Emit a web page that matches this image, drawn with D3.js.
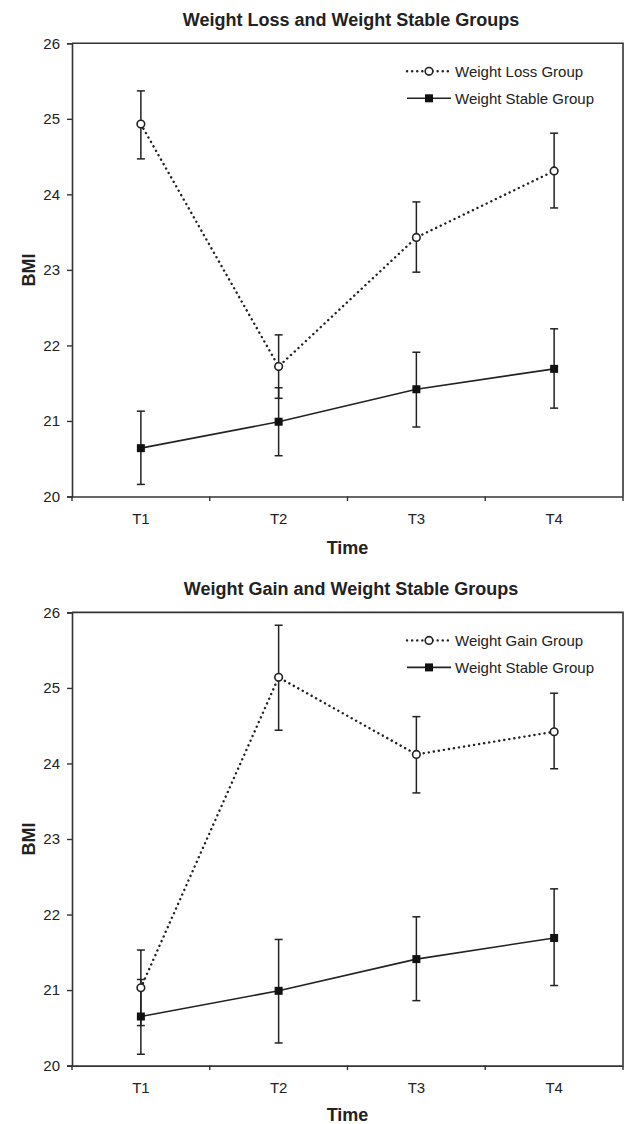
<!DOCTYPE html>
<html>
<head>
<meta charset="utf-8">
<script src="https://cdn.jsdelivr.net/npm/d3@7"></script>
<style>
  body { margin: 0; background: #fff; }
  svg { display: block; font-family: Arial, "Liberation Sans", sans-serif; }
</style>
</head>
<body>
<div id="chart"></div>
<script>
// BMI over time, two panels (group vs weight stable group), mean with error bars

const timePoints = ["T1", "T2", "T3", "T4"];
const bmiTicks = [20, 21, 22, 23, 24, 25, 26];

// top panel
const lossMean = [24.93, 21.72, 23.43, 24.31];
const lossLow = [24.47, 21.30, 22.97, 23.82];
const lossHigh = [25.37, 22.14, 23.90, 24.81];

const stableMeanA = [20.64, 20.99, 21.42, 21.69];
const stableLowA = [20.16, 20.54, 20.92, 21.17];
const stableHighA = [21.13, 21.44, 21.91, 22.22];

// bottom panel
const gainMean = [21.03, 25.14, 24.12, 24.42];
const gainLow = [20.53, 24.44, 23.61, 23.93];
const gainHigh = [21.53, 25.83, 24.62, 24.93];

const stableMeanB = [20.65, 20.99, 21.41, 21.69];
const stableLowB = [20.15, 20.30, 20.86, 21.06];
const stableHighB = [21.14, 21.67, 21.97, 22.34];

const ink = "#222";
const axisInk = "#333";

document.addEventListener('DOMContentLoaded', () => {
    const svg = d3.select("#chart").append("svg")
        .attr("width", 625)
        .attr("height", 1124);

    drawPanel(svg, {
        top: 43.3, bottom: 496.5, timeGap: 57,
        title: "Weight Loss and Weight Stable Groups",
        dotted: { name: "Weight Loss Group", mean: lossMean, low: lossLow, high: lossHigh },
        solid: { name: "Weight Stable Group", mean: stableMeanA, low: stableLowA, high: stableHighA }
    });

    drawPanel(svg, {
        top: 612.4, bottom: 1065.6, timeGap: 55,
        title: "Weight Gain and Weight Stable Groups",
        dotted: { name: "Weight Gain Group", mean: gainMean, low: gainLow, high: gainHigh },
        solid: { name: "Weight Stable Group", mean: stableMeanB, low: stableLowB, high: stableHighB }
    });
});

function drawPanel(svg, cfg) {
    const left = 72, right = 623;

    const x = d3.scaleBand().domain(timePoints).range([left, right]).padding(0);
    const cx = d => x(d) + x.bandwidth() / 2;
    const y = d3.scaleLinear().domain([20, 26]).range([cfg.bottom, cfg.top]);

    const g = svg.append("g");

    // Title
    g.append("text")
        .attr("x", 351)
        .attr("y", cfg.top - 17.5)
        .attr("text-anchor", "middle")
        .attr("fill", ink)
        .style("font-size", "18px")
        .style("font-weight", "bold")
        .text(cfg.title);

    // Frame (top + right)
    g.append("path")
        .attr("d", `M${left},${cfg.top}H${right}V${cfg.bottom}`)
        .attr("fill", "none")
        .attr("stroke", axisInk)
        .attr("stroke-width", 1.6);

    // Y axis
    const yAxis = g.append("g")
        .attr("transform", `translate(${left},0)`)
        .call(d3.axisLeft(y).tickValues(bmiTicks).tickFormat(d3.format("d")).tickSize(5).tickPadding(7));
    yAxis.select(".domain").attr("stroke", axisInk).attr("stroke-width", 1.6);
    yAxis.selectAll(".tick line").attr("stroke", axisInk).attr("stroke-width", 1.4);
    yAxis.selectAll("text").attr("fill", ink).style("font-size", "15px").style("font-family", "Arial, 'Liberation Sans', sans-serif");

    // X axis (labels at band centres, ticks at band edges)
    const xAxis = g.append("g")
        .attr("transform", `translate(0,${cfg.bottom})`)
        .call(d3.axisBottom(x).tickSize(0).tickPadding(17));
    xAxis.select(".domain").attr("stroke", axisInk).attr("stroke-width", 1.6);
    xAxis.selectAll("text").attr("fill", ink).style("font-size", "15px").style("font-family", "Arial, 'Liberation Sans', sans-serif");

    const edges = timePoints.map(d => x(d)).concat([x.range()[1]]);
    g.selectAll(".xedge")
        .data(edges)
        .enter()
        .append("line")
        .attr("x1", d => d).attr("x2", d => d)
        .attr("y1", cfg.bottom).attr("y2", cfg.bottom + 4.5)
        .attr("stroke", axisInk)
        .attr("stroke-width", 1.4);

    // Axis titles
    g.append("text")
        .attr("x", (left + right) / 2)
        .attr("y", cfg.bottom + cfg.timeGap)
        .attr("text-anchor", "middle")
        .attr("fill", ink)
        .style("font-size", "18px")
        .style("font-weight", "bold")
        .text("Time");

    g.append("text")
        .attr("transform", `translate(34.5,${(cfg.top + cfg.bottom) / 2}) rotate(-90)`)
        .attr("text-anchor", "middle")
        .attr("fill", ink)
        .style("font-size", "18px")
        .style("font-weight", "bold")
        .text("BMI");

    // Series
    const line = d3.line().x(d => cx(d.t)).y(d => y(d.v));
    const rows = s => timePoints.map((t, i) => ({ t: t, v: s.mean[i], lo: s.low[i], hi: s.high[i] }));

    const solidRows = rows(cfg.solid);
    const dottedRows = rows(cfg.dotted);

    g.append("path")
        .datum(solidRows)
        .attr("d", line)
        .attr("fill", "none")
        .attr("stroke", ink)
        .attr("stroke-width", 1.6);

    g.append("path")
        .datum(dottedRows)
        .attr("d", line)
        .attr("fill", "none")
        .attr("stroke", ink)
        .attr("stroke-width", 2.4)
        .attr("stroke-linecap", "round")
        .attr("stroke-dasharray", "0.1,5");

    // Error bars
    [solidRows, dottedRows].forEach(data => {
        const eb = g.append("g").selectAll("g")
            .data(data)
            .enter()
            .append("g")
            .attr("stroke", ink)
            .attr("stroke-width", 1.5);
        eb.append("line")
            .attr("x1", d => cx(d.t)).attr("x2", d => cx(d.t))
            .attr("y1", d => y(d.lo)).attr("y2", d => y(d.hi));
        eb.append("line")
            .attr("x1", d => cx(d.t) - 4).attr("x2", d => cx(d.t) + 4)
            .attr("y1", d => y(d.lo)).attr("y2", d => y(d.lo));
        eb.append("line")
            .attr("x1", d => cx(d.t) - 4).attr("x2", d => cx(d.t) + 4)
            .attr("y1", d => y(d.hi)).attr("y2", d => y(d.hi));
    });

    // Markers
    g.selectAll(".sq")
        .data(solidRows)
        .enter()
        .append("rect")
        .attr("x", d => cx(d.t) - 4)
        .attr("y", d => y(d.v) - 4)
        .attr("width", 8)
        .attr("height", 8)
        .attr("fill", "#111");

    g.selectAll(".circ")
        .data(dottedRows)
        .enter()
        .append("circle")
        .attr("cx", d => cx(d.t))
        .attr("cy", d => y(d.v))
        .attr("r", 3.8)
        .attr("fill", "#fff")
        .attr("stroke", ink)
        .attr("stroke-width", 1.6);

    // Legend
    const lx1 = 407, lx2 = 451, lm = 429, tx = 455;
    const r1 = cfg.top + 28, r2 = cfg.top + 55;

    g.append("line")
        .attr("x1", lx1).attr("x2", lx2).attr("y1", r1).attr("y2", r1)
        .attr("stroke", ink)
        .attr("stroke-width", 2.4)
        .attr("stroke-linecap", "round")
        .attr("stroke-dasharray", "0.1,5");
    g.append("circle")
        .attr("cx", lm).attr("cy", r1).attr("r", 3.8)
        .attr("fill", "#fff").attr("stroke", ink).attr("stroke-width", 1.6);
    g.append("text")
        .attr("x", tx).attr("y", r1 + 5.3)
        .attr("fill", ink)
        .style("font-size", "15px")
        .text(cfg.dotted.name);

    g.append("line")
        .attr("x1", lx1).attr("x2", lx2).attr("y1", r2).attr("y2", r2)
        .attr("stroke", ink)
        .attr("stroke-width", 1.6);
    g.append("rect")
        .attr("x", lm - 4).attr("y", r2 - 4).attr("width", 8).attr("height", 8)
        .attr("fill", "#111");
    g.append("text")
        .attr("x", tx).attr("y", r2 + 5.3)
        .attr("fill", ink)
        .style("font-size", "15px")
        .text(cfg.solid.name);
}
</script>
</body>
</html>
